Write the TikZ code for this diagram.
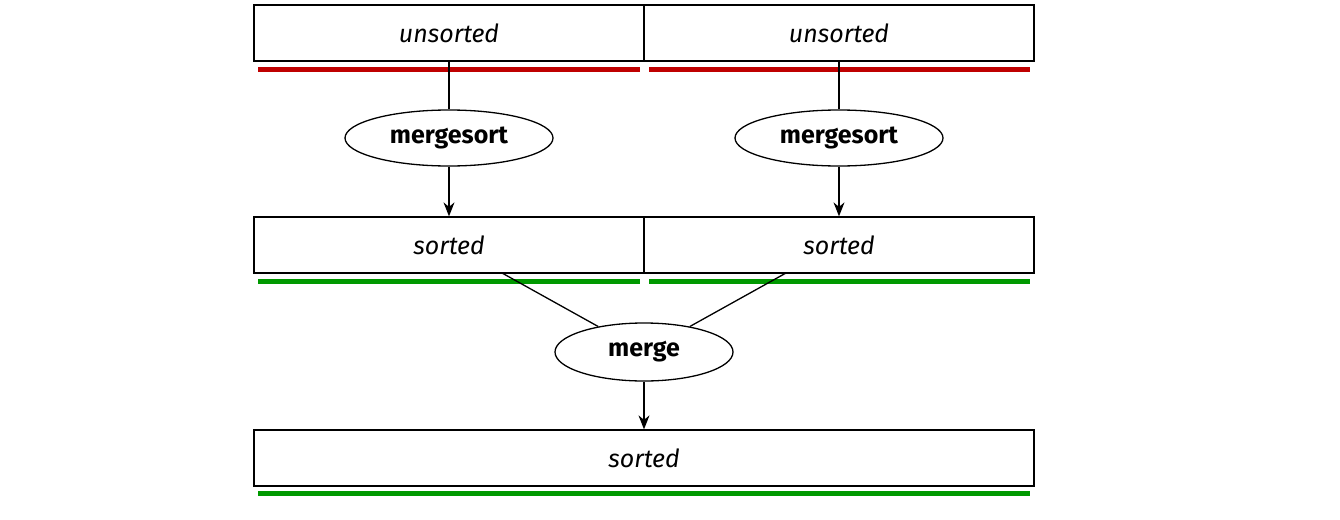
\documentclass[tikz,border=0pt]{standalone}
\usepackage{fontspec}
\setmainfont{Fira Sans}
\usetikzlibrary{shapes.geometric,arrows.meta}
\begin{document}
\begin{tikzpicture}[x=1pt,y=-1pt,
  box/.style={draw,line width=1.3pt,minimum height=56pt,inner sep=0pt,font=\fontsize{25}{30}\selectfont\itshape},
  op/.style={draw,ellipse,line width=1.3pt,inner sep=0pt,font=\fontsize{25}{30}\selectfont\bfseries},
  red/.style={draw=red!75!black,line width=5pt},
  grn/.style={draw=green!60!black,line width=5pt},
  arr/.style={line width=1.3pt,-{Stealth[length=14pt,width=11pt]}},
  ln/.style={line width=1.3pt}]
\useasboundingbox (0,0) rectangle (1340,519);
\node[box,minimum width=390pt] (u1) at (449,33) {unsorted};
\node[box,minimum width=390pt] (u2) at (839,33) {unsorted};
\node[box,minimum width=390pt] (s1) at (449,245) {sorted};
\node[box,minimum width=390pt] (s2) at (839,245) {sorted};
\node[box,minimum width=780pt] (s3) at (644,458) {sorted};
\node[op,minimum width=208pt,minimum height=56pt] (m1) at (449,138) {mergesort};
\node[op,minimum width=208pt,minimum height=56pt] (m2) at (839,138) {mergesort};
\node[op,minimum width=178pt,minimum height=58pt] (mg) at (644,352) {merge};
\draw[red] (258,69) -- (640,69);
\draw[red] (649,69) -- (1030,69);
\draw[grn] (258,281) -- (640,281);
\draw[grn] (649,281) -- (1030,281);
\draw[grn] (258,493) -- (1030,493);
\draw[ln] (u1.south) -- (m1.north);
\draw[ln] (u2.south) -- (m2.north);
\draw[arr] (m1.south) -- (s1.north);
\draw[arr] (m2.south) -- (s2.north);
\coordinate (a) at (502,273);
\coordinate (b) at (786,273);
\draw[ln] (a) -- (mg);
\draw[ln] (b) -- (mg);
\draw[arr] (mg.south) -- (s3.north);
\end{tikzpicture}
\end{document}
